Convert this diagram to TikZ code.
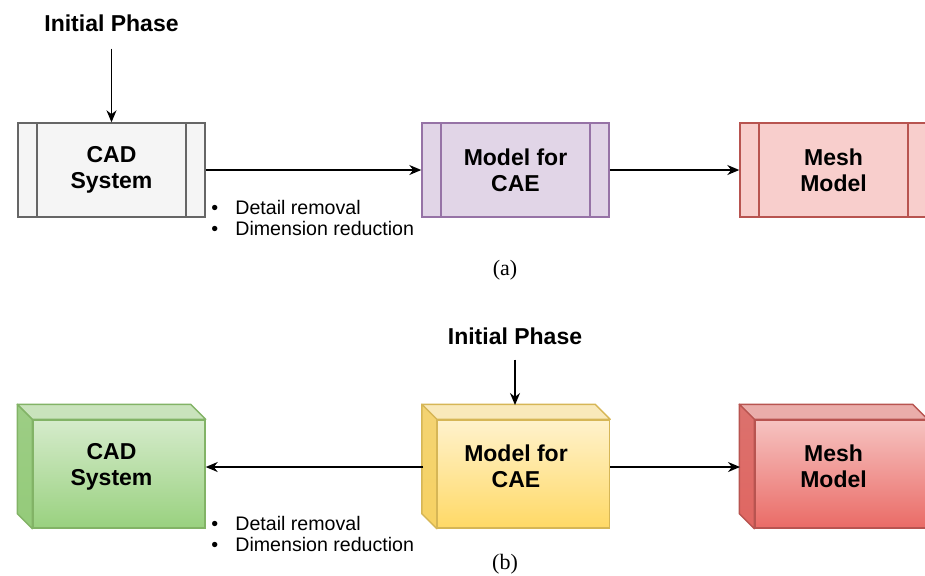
\documentclass[tikz,border=0pt]{standalone}
\usepackage{fontspec}
\setsansfont{Liberation Sans}
\newfontfamily\capfont{Liberation Serif}
\usetikzlibrary{arrows.meta}

\definecolor{grayfill}{HTML}{F5F5F5}
\definecolor{graystroke}{HTML}{666666}
\definecolor{purplefill}{HTML}{E1D5E7}
\definecolor{purplestroke}{HTML}{9673A6}
\definecolor{pinkfill}{HTML}{F8CECC}
\definecolor{redstroke}{HTML}{B85450}
\definecolor{greentop}{HTML}{D5EBCB}
\definecolor{greenbot}{HTML}{99D17F}
\definecolor{greenstroke}{HTML}{82B366}
\definecolor{yellowtop}{HTML}{FFF2CC}
\definecolor{yellowbot}{HTML}{FFD966}
\definecolor{yellowstroke}{HTML}{D6B656}
\definecolor{redtop}{HTML}{F6C3C1}
\definecolor{redbot}{HTML}{EA6B66}

% process box with a bar at each side
\tikzset{
	procbox/.style 2 args={draw=#2,fill=#1,
		path picture={
			\draw[#2,line width=0.7pt] ([xshift=9.5pt]path picture bounding box.north west) -- ([xshift=9.5pt]path picture bounding box.south west);
			\draw[#2,line width=0.7pt] ([xshift=-9.5pt]path picture bounding box.north east) -- ([xshift=-9.5pt]path picture bounding box.south east);
		}},
	cubebox/.style n args={3}{draw=#3,top color=#1,bottom color=#2},
	label/.style={font=\sffamily\bfseries\fontsize{11.5}{13}\selectfont},
	bullets/.style={font=\sffamily\fontsize{9.8}{10.5}\selectfont,align=left,anchor=north west,inner sep=0pt},
	caption/.style={font=\capfont\fontsize{11}{12}\selectfont}
}

% top and left faces of a cube drawn behind node #1
\newcommand{\cubefaces}[4]{%
	\filldraw[fill=#2,draw=#4,line width=0.7pt,line join=round] (#1.north west) -- ++(-15,-15) -- ([shift={(-15,-15)}]#1.north east) -- (#1.north east) -- cycle;
	\shadedraw[top color=#3!80!#2,bottom color=#3,draw=#4,line width=0.7pt,line join=round] (#1.north west) -- ++(-15,-15) -- ([shift={(-15,-15)}]#1.south west) -- (#1.south west) -- cycle;
}

\begin{document}
\begin{tikzpicture}[x=0.5pt,y=-0.5pt,>={Stealth[length=6pt,width=5pt]}]
	\useasboundingbox (0,0) rectangle (925,575);
	\begin{scope}[every node/.style={line width=0.7pt,align=center,font=\sffamily\bfseries\fontsize{11.5}{13}\selectfont}]
	% (a)
	\node [procbox={grayfill}{graystroke},minimum width=93.5pt,minimum height=47pt] (A) at (111.5,170) {CAD\\System};
	\node [procbox={purplefill}{purplestroke},minimum width=93.5pt,minimum height=47pt] (B) at (515.5,170) {Model for\\CAE};
	\node [procbox={pinkfill}{redstroke},minimum width=93.5pt,minimum height=47pt] (C) at (833.5,170) {Mesh\\Model};
	% (b)
	\node [cubebox={greentop}{greenbot}{greenstroke},minimum width=86pt,minimum height=54pt] (D) at (119,474) {};
	\node [cubebox={yellowtop}{yellowbot}{yellowstroke},minimum width=86pt,minimum height=54pt] (E) at (523.5,474) {};
	\node [cubebox={redtop}{redbot}{redstroke},minimum width=86pt,minimum height=54pt] (F) at (841,474) {};
	\end{scope}
	\cubefaces{D}{greentop!85!greenstroke}{greenbot!80!greenstroke}{greenstroke}
	\cubefaces{E}{yellowtop!85!yellowstroke}{yellowbot!80!yellowstroke}{yellowstroke}
	\cubefaces{F}{redtop!80!redstroke}{redbot!80!redstroke}{redstroke}
	\begin{scope}[every node/.style={align=center,font=\sffamily\bfseries\fontsize{11.5}{13}\selectfont}]
	\node (Dl) at ([shift={(-7.5,-7.5)}]D.center) {CAD\\System};
	\node (El) at ([shift={(-7.5,-7.5)}]E.center) {Model for\\CAE};
	\node (Fl) at ([shift={(-7.5,-7.5)}]F.center) {Mesh\\Model};
	\end{scope}
	\node [label] (P) at (111.5,23) {Initial Phase};
	\node [label] (Q) at (515,336) {Initial Phase};
	\coordinate (Etop) at (515,405);
	\coordinate (Eleft) at (423,467);
	\coordinate (Fleft) at (740,467);
	\draw [->,line width=0.7pt,shorten <=5pt] (P) -- (A);
	\draw [->,line width=0.7pt,shorten <=4pt] (Q) -- (Etop);
	\draw [->,line width=0.7pt] (A) -- (B);
	\draw [->,line width=0.7pt] (B) -- (C);
	\draw [->,line width=0.7pt] (Eleft) -- (D.east |- Eleft);
	\draw [->,line width=0.7pt] (E.east |- Fleft) -- (Fleft);
	\node [bullets] (L1) at (211,200) {\makebox[12pt][l]{\textbullet}Detail removal\\\makebox[12pt][l]{\textbullet}Dimension reduction};
	\node [bullets] (L2) at (211,516) {\makebox[12pt][l]{\textbullet}Detail removal\\\makebox[12pt][l]{\textbullet}Dimension reduction};
	\node [caption] (a) at (505,270) {(a)};
	\node [caption] (b) at (505,564) {(b)};
\end{tikzpicture}
\end{document}
